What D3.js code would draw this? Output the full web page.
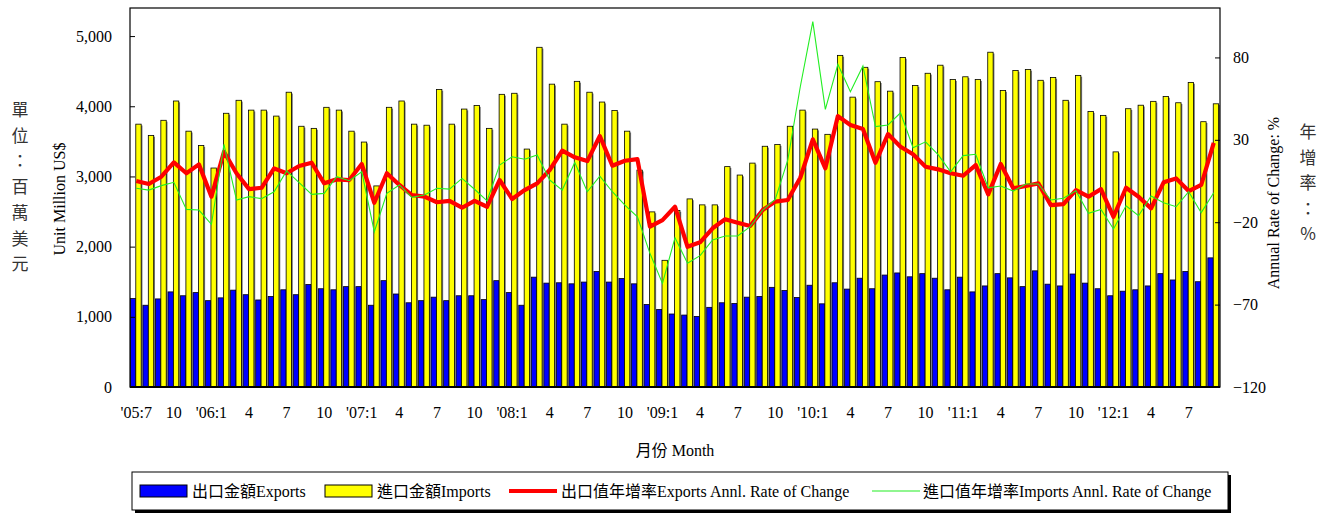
<!DOCTYPE html>
<html>
<head>
<meta charset="utf-8">
<script src="https://cdn.jsdelivr.net/npm/d3@7"></script>
<style>
  body { margin: 0; background: #fff; }
  svg { display: block; font-family: "Liberation Serif", "Times New Roman", "Noto Sans CJK TC", serif; }
</style>
</head>
<body>
<div id="chart"></div>
<script>
// Months from 2005-07 to 2012-09
const months = [
  "05-07","05-08","05-09","05-10","05-11","05-12",
  "06-01","06-02","06-03","06-04","06-05","06-06","06-07","06-08","06-09","06-10","06-11","06-12",
  "07-01","07-02","07-03","07-04","07-05","07-06","07-07","07-08","07-09","07-10","07-11","07-12",
  "08-01","08-02","08-03","08-04","08-05","08-06","08-07","08-08","08-09","08-10","08-11","08-12",
  "09-01","09-02","09-03","09-04","09-05","09-06","09-07","09-08","09-09","09-10","09-11","09-12",
  "10-01","10-02","10-03","10-04","10-05","10-06","10-07","10-08","10-09","10-10","10-11","10-12",
  "11-01","11-02","11-03","11-04","11-05","11-06","11-07","11-08","11-09","11-10","11-11","11-12",
  "12-01","12-02","12-03","12-04","12-05","12-06","12-07","12-08","12-09"
];

// x-axis tick labels: [month, label]
const tickLabels = [
  ["05-07","'05:7"],["05-10","10"],
  ["06-01","'06:1"],["06-04","4"],["06-07","7"],["06-10","10"],
  ["07-01","'07:1"],["07-04","4"],["07-07","7"],["07-10","10"],
  ["08-01","'08:1"],["08-04","4"],["08-07","7"],["08-10","10"],
  ["09-01","'09:1"],["09-04","4"],["09-07","7"],["09-10","10"],
  ["10-01","'10:1"],["10-04","4"],["10-07","7"],["10-10","10"],
  ["11-01","'11:1"],["11-04","4"],["11-07","7"],["11-10","10"],
  ["12-01","'12:1"],["12-04","4"],["12-07","7"]
];

// Exports, million US$
const exportsVal = [
  1260,1165,1255,1355,1300,1345,
  1230,1270,1380,1315,1240,1290,1385,1315,1460,1400,1385,1430,
  1430,1165,1515,1325,1200,1230,1280,1230,1300,1300,1245,1515,
  1345,1165,1565,1480,1485,1470,1495,1645,1495,1545,1470,1175,
  1105,1040,1025,1005,1135,1200,1190,1280,1290,1420,1375,1275,
  1450,1185,1485,1395,1550,1400,1595,1625,1570,1615,1550,1385,
  1565,1355,1440,1615,1555,1430,1655,1465,1440,1610,1480,1400,
  1300,1365,1385,1440,1615,1525,1645,1500,1840
];

// Imports, million US$
const importsVal = [
  3745,3585,3800,4075,3645,3440,
  3120,3900,4085,3945,3945,3860,4200,3715,3685,3985,3945,3645,
  3490,2865,3985,4075,3745,3730,4240,3745,3960,4010,3685,4170,
  4185,3390,4840,4315,3745,4355,4200,4060,3940,3645,3090,2495,
  1805,2515,2680,2595,2595,3140,3020,3190,3430,3455,3715,3945,
  3675,3600,4725,4130,4555,4350,4215,4695,4295,4470,4585,4380,
  4420,4380,4770,4225,4510,4525,4370,4410,4085,4440,3925,3870,
  3350,3965,4015,4070,4140,4050,4340,3780,4035
];

// Exports annual rate of change, %
const exportsRate = [
  5.0,3.2,7.6,16.3,9.7,15.1,
  -4.5,22.8,9.7,0.1,0.9,12.7,9.7,14.1,16.1,3.6,6.0,5.6,
  15.3,-8.2,9.7,2.6,-3.5,-4.5,-7.9,-7.1,-11.2,-7.0,-10.6,5.6,
  -5.9,-0.5,3.6,11.7,23.4,19.4,17.1,32.3,14.3,17.3,18.3,-22.7,
  -18.7,-10.6,-34.9,-32.2,-23.7,-18.2,-20.3,-22.3,-12.6,-7.5,-6.5,7.0,
  30.3,12.7,44.4,39.0,36.6,16.1,33.5,25.8,21.2,13.7,12.1,9.7,
  8.2,14.7,-3.1,15.3,0.6,2.0,3.6,-9.6,-9.0,-0.5,-4.5,0.1,
  -16.7,0.9,-4.5,-11.6,4.2,6.6,-1.1,2.6,28.2
];

// Imports annual rate of change, %
const importsRate = [
  0.6,-0.5,2.2,4.2,-12.2,-12.6,
  -21.3,27.3,-6.5,-4.5,-5.7,-1.5,11.1,4.0,-3.1,-2.5,7.6,5.2,
  10.6,-25.8,-2.5,2.6,-4.9,-3.5,0.6,0.1,6.6,0.0,-7.0,14.7,
  19.7,18.2,20.8,5.6,-0.5,16.3,-1.5,8.0,-1.5,-9.6,-16.7,-38.9,
  -57.1,-29.4,-44.9,-40.3,-30.8,-28.4,-28.4,-22.7,-12.6,-6.1,17.7,62.2,
  101.7,48.5,75.8,59.2,74.8,38.0,39.0,46.4,25.2,28.8,21.0,10.6,
  20.4,21.2,0.9,2.0,-1.1,3.2,3.2,-6.5,-5.5,-0.9,-14.6,-12.2,
  -24.1,-10.0,-16.1,-4.1,-8.2,-10.6,-1.5,-14.2,-2.1
];

const leftTicks = [0, 1000, 2000, 3000, 4000, 5000];
const rightTicks = [-120, -70, -20, 30, 80];

const W = 1327, H = 514;
const plot = { left: 130, right: 1220, top: 8, bottom: 387 };

const svg = d3.select("#chart").append("svg")
  .attr("width", W).attr("height", H);

const x = d3.scaleBand().domain(months).range([plot.left, plot.right]).padding(0);
const yL = d3.scaleLinear().domain([0, 5400]).range([plot.bottom, plot.top]);
const yR = d3.scaleLinear().domain([-120, 110]).range([plot.bottom, plot.top]);
const bw = x.bandwidth();
const barW = bw * 0.43;
const cx = m => x(m) + bw / 2;

svg.append("clipPath").attr("id", "plotclip")
  .append("rect")
  .attr("x", plot.left).attr("y", plot.top)
  .attr("width", plot.right - plot.left).attr("height", plot.bottom - plot.top);

const bars = svg.append("g").attr("clip-path", "url(#plotclip)");

// shadows
bars.selectAll(".shE").data(months).enter().append("rect")
  .attr("x", (d) => x(d) + 0.4 + 1.3)
  .attr("y", (d, i) => yL(exportsVal[i]) + 1.3)
  .attr("width", barW)
  .attr("height", (d, i) => plot.bottom - yL(exportsVal[i]))
  .attr("fill", "#7a7a7a");
bars.selectAll(".shI").data(months).enter().append("rect")
  .attr("x", (d) => x(d) + 0.4 + barW + 1.3)
  .attr("y", (d, i) => yL(importsVal[i]) + 1.3)
  .attr("width", barW)
  .attr("height", (d, i) => plot.bottom - yL(importsVal[i]))
  .attr("fill", "#7a7a7a");

bars.selectAll(".exp").data(months).enter().append("rect")
  .attr("x", (d) => x(d) + 0.4)
  .attr("y", (d, i) => yL(exportsVal[i]))
  .attr("width", barW)
  .attr("height", (d, i) => plot.bottom - yL(exportsVal[i]))
  .attr("fill", "#0000ff")
  .attr("stroke", "#000").attr("stroke-width", 0.8);

bars.selectAll(".imp").data(months).enter().append("rect")
  .attr("x", (d) => x(d) + 0.4 + barW)
  .attr("y", (d, i) => yL(importsVal[i]))
  .attr("width", barW)
  .attr("height", (d, i) => plot.bottom - yL(importsVal[i]))
  .attr("fill", "#ffff00")
  .attr("stroke", "#000").attr("stroke-width", 0.8);

// lines
const line = (vals) => d3.line()
  .x((d) => cx(d))
  .y((d, i) => yR(vals[i]))(months);

svg.append("path")
  .attr("d", line(exportsRate))
  .attr("fill", "none")
  .attr("stroke", "#ff0000")
  .attr("stroke-width", 4.2)
  .attr("stroke-linejoin", "round");

svg.append("path")
  .attr("d", line(importsRate))
  .attr("fill", "none")
  .attr("stroke", "#22ee22")
  .attr("stroke-width", 1.1);

// frame
svg.append("rect")
  .attr("x", plot.left).attr("y", plot.top)
  .attr("width", plot.right - plot.left).attr("height", plot.bottom - plot.top)
  .attr("fill", "none").attr("stroke", "#000").attr("stroke-width", 1.2);
svg.append("line")
  .attr("x1", plot.left).attr("x2", plot.right)
  .attr("y1", plot.bottom).attr("y2", plot.bottom)
  .attr("stroke", "#000").attr("stroke-width", 1.8);

// axes
const axL = svg.append("g")
  .attr("transform", `translate(${plot.left},0)`)
  .call(d3.axisLeft(yL).tickValues(leftTicks).tickFormat(d3.format(",")).tickSize(-5).tickPadding(18));
const axR = svg.append("g")
  .attr("transform", `translate(${plot.right},0)`)
  .call(d3.axisRight(yR).tickValues(rightTicks).tickSize(-5).tickPadding(13));
[axL, axR].forEach(a => {
  a.select(".domain").remove();
  a.selectAll("line").attr("stroke", "#000");
  a.selectAll("text")
    .attr("font-family", "Liberation Serif, Times New Roman, serif")
    .attr("font-size", 16).attr("fill", "#000");
});

svg.append("g").selectAll("text").data(tickLabels).enter().append("text")
  .attr("x", d => cx(d[0]))
  .attr("y", 418)
  .attr("text-anchor", "middle")
  .attr("font-size", 16)
  .text(d => d[1]);

// titles
svg.append("text")
  .attr("x", 675).attr("y", 456)
  .attr("text-anchor", "middle").attr("font-size", 16)
  .text("月份 Month");

svg.append("text")
  .attr("transform", "translate(65,199) rotate(-90)")
  .attr("text-anchor", "middle").attr("font-size", 16)
  .text("Unit Million US$");

svg.append("text")
  .attr("transform", "translate(1279,203) rotate(-90)")
  .attr("text-anchor", "middle").attr("font-size", 16)
  .text("Annual Rate of Change: %");

const leftCJK = ["單", "位", "：", "百", "萬", "美", "元"];
svg.append("g").selectAll("text").data(leftCJK).enter().append("text")
  .attr("x", 20).attr("y", (d, i) => 116 + i * 25.7)
  .attr("text-anchor", "middle")
  .attr("font-family", "Noto Sans CJK TC")
  .attr("font-size", 17).attr("fill", "#333")
  .text(d => d);

const rightCJK = ["年", "增", "率", "：", "%"];
svg.append("g").selectAll("text").data(rightCJK).enter().append("text")
  .attr("x", 1308).attr("y", (d, i) => 138 + i * 25.5)
  .attr("text-anchor", "middle")
  .attr("font-family", "Noto Sans CJK TC")
  .attr("font-size", 17).attr("fill", "#333")
  .text(d => d);

// legend
const lg = svg.append("g");
lg.append("rect").attr("x", 135).attr("y", 475).attr("width", 1096).attr("height", 38).attr("fill", "#000");
lg.append("rect").attr("x", 132).attr("y", 472).attr("width", 1096).attr("height", 38)
  .attr("fill", "#fff").attr("stroke", "#000").attr("stroke-width", 1);

const legendItems = [
  { type: "rect", fill: "#0000ff", x: 140, tx: 192, label: "出口金額Exports" },
  { type: "rect", fill: "#ffff00", x: 325, tx: 377, label: "進口金額Imports" },
  { type: "line", stroke: "#ff0000", w: 4.2, x: 509, tx: 561, label: "出口值年增率Exports Annl. Rate of Change" },
  { type: "line", stroke: "#22ee22", w: 1.1, x: 872, tx: 923, label: "進口值年增率Imports Annl. Rate of Change" }
];
legendItems.forEach(it => {
  if (it.type === "rect") {
    lg.append("rect").attr("x", it.x).attr("y", 485).attr("width", 47).attr("height", 12)
      .attr("fill", it.fill).attr("stroke", "#000").attr("stroke-width", 1);
  } else {
    lg.append("line").attr("x1", it.x).attr("x2", it.x + 48).attr("y1", 491).attr("y2", 491)
      .attr("stroke", it.stroke).attr("stroke-width", it.w);
  }
  lg.append("text").attr("x", it.tx).attr("y", 497).attr("font-size", 16).text(it.label);
});
</script>
</body>
</html>
